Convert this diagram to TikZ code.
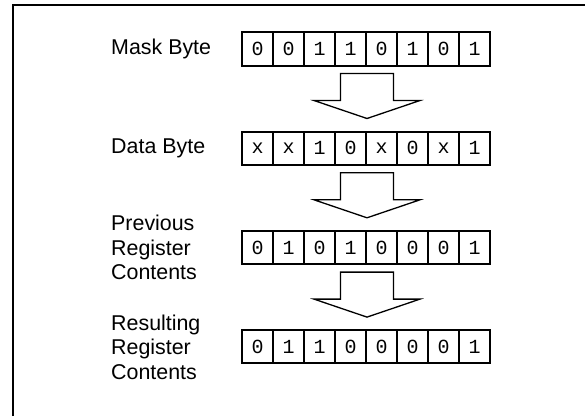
\documentclass[tikz,border=0pt]{standalone}
\usepackage{fontspec}
\setmainfont{Liberation Sans}
\newfontfamily\bitfont{Liberation Mono}
\usetikzlibrary{positioning, calc}
\tikzstyle{bit}=[draw, line width=2pt, minimum width=31pt, minimum height=33pt, inner sep=0pt, font=\bitfont\fontsize{20}{20}\selectfont]
\tikzstyle{rowlabel}=[anchor=west, align=left, inner sep=0pt, font=\fontsize{21.4}{24.5}\selectfont]
\tikzstyle{blockarrow}=[draw, line width=1.3pt, line join=miter]

\begin{document}
\begin{tikzpicture}[x=1pt, y=1pt]
    \useasboundingbox (0,0) rectangle (585,416);
    \draw [line width=2pt] (13,0) |- (585,410.5);

    \foreach \bits [count=\r] in {{0,0,1,1,0,1,0,1},{x,x,1,0,x,0,x,1},{0,1,0,1,0,0,0,1},{0,1,1,0,0,0,0,1}}
    \foreach \b [count=\i] in \bits
    \node [bit] (byte-\r-\i) at (226.5+\i*31,367-\r*99.3+99.3) {\b};

    \foreach \l [count=\r] in {Mask Byte, Data Byte, Previous\\Register\\Contents, Resulting\\Register\\Contents}
    \node [rowlabel] (name-\r) at (111,367-\r*99.3+99.3) {\l};

    \foreach \r in {1,2,3}
    \coordinate (tip-\r) at ($(byte-\r-4.south east)+(0,-52)$);

    \foreach \r in {1,2,3}
    \draw [blockarrow] (tip-\r) -- ++(-53,18) -- ++(26.5,0) -- ++(0,27)
      -- ++(53,0) -- ++(0,-27) -- ++(26.5,0) -- cycle;

\end{tikzpicture}
\end{document}
